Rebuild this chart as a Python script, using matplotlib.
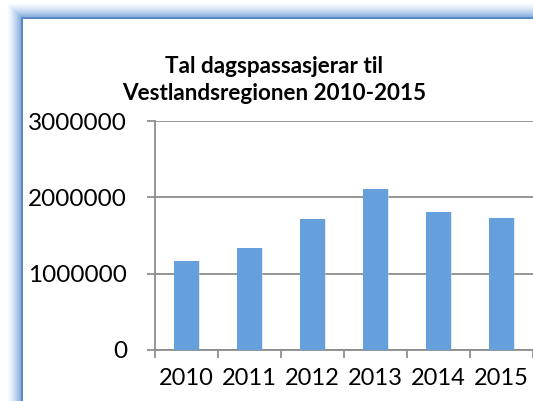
import matplotlib.pyplot as plt
from matplotlib.patches import Rectangle
import numpy as np

years = ['2010', '2011', '2012', '2013', '2014', '2015']
passengers = [1170000, 1340000, 1710000, 2110000, 1810000, 1730000]
yticks = [0, 1000000, 2000000, 3000000]
title = 'Tal dagspassasjerar til\nVestlandsregionen 2010-2015'

W, H = 533, 401
fig = plt.figure(figsize=(W / 100, H / 100), dpi=100)

# background frame with blue glow, drawn in pixel coords
bg = fig.add_axes([0, 0, 1, 1])
bg.set_xlim(0, W)
bg.set_ylim(H, 0)
bg.axis('off')
blue = np.array([0.40, 0.60, 0.84])
white = np.array([1.0, 1.0, 1.0])
for d in range(17, 0, -1):
    t = (1 - d / 17) ** 1.4
    c = white * (1 - t) + blue * t
    bg.add_patch(Rectangle((23 - d, 19 - d), W + 40, H + 40, color=c, lw=0))
bg.add_patch(Rectangle((21, 17), W + 40, H + 40, color='#5b89c6', lw=0))
bg.add_patch(Rectangle((23, 19), W + 40, H + 40, color='white', lw=0))

ax = fig.add_axes([155 / W, 1 - 350 / H, 1 - 155 / W, (350 - 121) / H])
ax.set_facecolor('none')
x = np.arange(len(years))
ax.bar(x + 0.015, passengers, width=0.4, color='#d0d0d0', alpha=0.5, zorder=2)
ax.bar(x, passengers, width=0.4, color='#659fdc', zorder=3)

ax.set_xlim(-0.5, len(years) - 0.5)
ax.set_ylim(0, 3000000)
ax.set_yticks(yticks)
ax.set_yticklabels([str(v) for v in yticks])
ax.set_xticks(x)
ax.set_xticklabels(years)
ax.set_xticks(np.arange(-0.5, len(years)), minor=True)
ax.tick_params(axis='x', which='major', length=0, pad=13)
ax.tick_params(axis='x', which='minor', length=6, color='#888888', width=1.2)
ax.tick_params(axis='y', length=6, color='#888888', width=1.2, pad=14)
for lab in ax.get_xticklabels():
    lab.set_family('Lato')
    lab.set_fontsize(17)
for lab in ax.get_yticklabels():
    lab.set_family('Lato')
    lab.set_fontsize(17.5)
ax.yaxis.grid(True, color='#8c8c8c', lw=1.3, zorder=1)
ax.set_axisbelow(True)
for s in ['top', 'right']:
    ax.spines[s].set_visible(False)
for s in ['left', 'bottom']:
    ax.spines[s].set_color('#8c8c8c')
    ax.spines[s].set_linewidth(1.3)

fig.text(274 / W, 1 - 80 / H, title, ha='center', va='center',
         family='Lato', weight='bold', fontsize=16.2, linespacing=1.35)

fig.savefig('out.png', dpi=100)
